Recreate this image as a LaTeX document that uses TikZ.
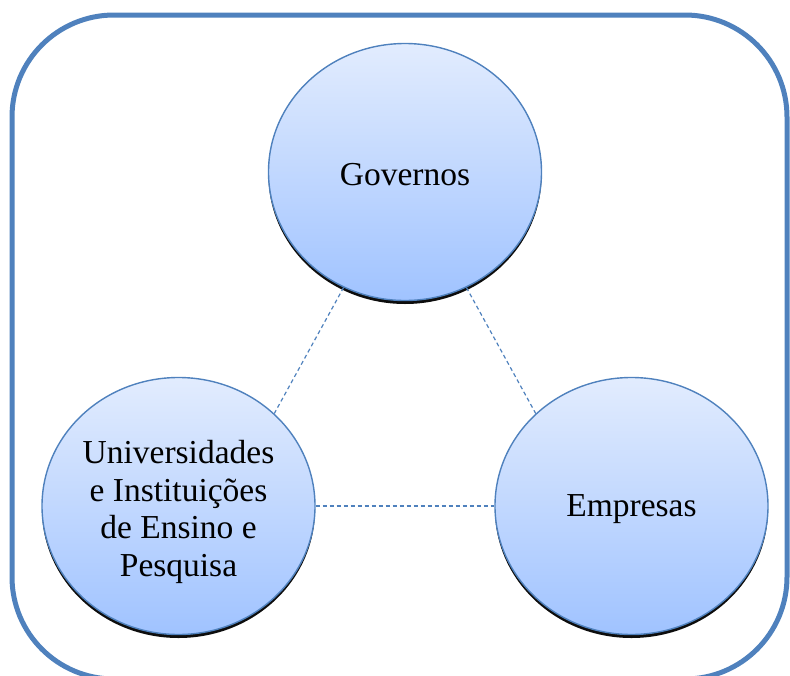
\documentclass[tikz,border=0pt]{standalone}
\usepackage{fontspec}
\setmainfont{Liberation Serif}
\usetikzlibrary{shapes.geometric,shadows}
\definecolor{frameblue}{RGB}{79,129,189}
\definecolor{topfill}{RGB}{226,236,254}
\definecolor{botfill}{RGB}{160,195,255}
\tikzset{
  actor/.style={ellipse, draw=frameblue, line width=1.4pt, inner sep=0pt,
    minimum width=273pt, minimum height=257pt,
    top color=topfill, bottom color=botfill,
    drop shadow={shadow xshift=0pt, shadow yshift=-3.5pt, fill=black, opacity=0.95}},
  actortext/.style={align=center, inner sep=0pt,
    font=\fontsize{33.5}{37.7}\selectfont},
  link/.style={draw=frameblue, line width=1.2pt, dash pattern=on 4pt off 3pt},
  frame/.style={draw=frameblue, line width=5pt, rounded corners=102pt}
}
\begin{document}
\begin{tikzpicture}[x=1pt,y=-1pt]
\useasboundingbox (0,0) rectangle (790,675);
\clip (0,0) rectangle (790,675);
\path[frame] (12,15) rectangle (787,679);
\node[actor] (gov) at (405,172) {};
\node[actor] (uni) at (178.5,506) {};
\node[actor] (emp) at (631.5,506) {};
\node[actortext] (govtext) at ([yshift=-3pt]gov.center) {Governos};
\node[actortext] (unitext) at ([yshift=-6pt]uni.center) {Universidades\\e Instituições\\de Ensino e\\Pesquisa};
\node[actortext] (emptext) at ([yshift=-3.5pt]emp.center) {Empresas};
\draw[link] (gov.242) -- (uni.44);
\draw[link] (gov.298) -- (emp.136);
\draw[link] (uni.east) -- (emp.west);
\end{tikzpicture}
\end{document}
